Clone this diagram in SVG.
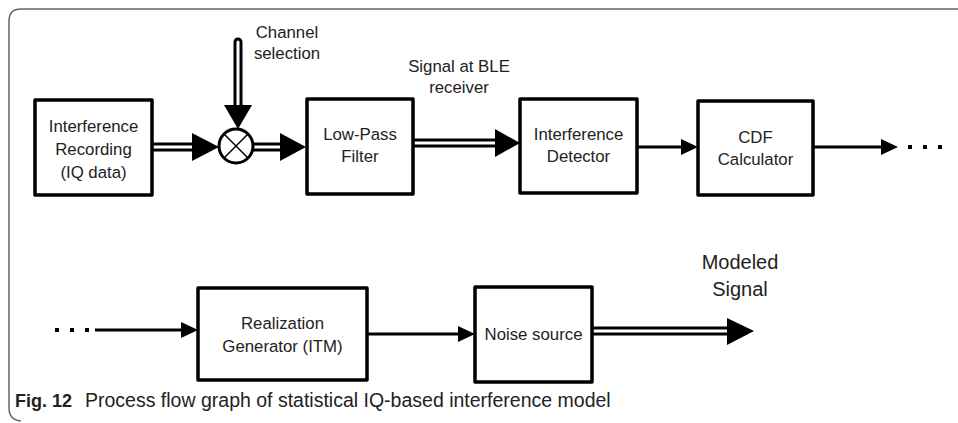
<svg xmlns="http://www.w3.org/2000/svg" width="958" height="423" viewBox="0 0 958 423">
  <style>
    .box { fill: #fff; stroke: #000; stroke-width: 3.5; stroke-linejoin: round; }
    .lbl { font-family: "Liberation Sans", Arial, sans-serif; font-size: 16.8px; fill: #222; text-anchor: middle; }
    .big { font-family: "Liberation Sans", Arial, sans-serif; font-size: 20px; fill: #222; text-anchor: middle; }
    .cap { font-family: "Liberation Sans", Arial, sans-serif; font-size: 19.5px; fill: #222; }
    .wire { stroke: #000; stroke-width: 3; fill: none; }
    .pipe { stroke: #000; stroke-width: 9; fill: none; }
    .core { stroke: #fff; stroke-width: 3; fill: none; }
    .head { fill: #000; }
    .dot { fill: #000; }
  </style>

  <!-- page frame: open bracket with rounded corners -->
  <path d="M958 9 H21 Q9 9 9 21 V408 Q9 420 21 421" fill="none" stroke="#666" stroke-width="1.5"/>

  <g id="connectors">
    <!-- recording -> mixer -->
    <line class="pipe" x1="152" y1="147" x2="194" y2="147"/>
    <line class="core" x1="152" y1="147" x2="196" y2="147"/>
    <polygon class="head" points="192,133 219,147 192,161"/>

    <!-- channel selection -> mixer -->
    <path class="pipe" d="M238 42 V107" stroke-linecap="round"/>
    <path class="core" d="M238 42 V109" stroke-linecap="round"/>
    <polygon class="head" points="224,105 238,129 252,105"/>

    <!-- mixer -> low-pass filter -->
    <line class="pipe" x1="253" y1="147" x2="282" y2="147"/>
    <line class="core" x1="254" y1="147" x2="284" y2="147"/>
    <polygon class="head" points="280,133 306,147 280,161"/>

    <!-- low-pass filter -> detector -->
    <line class="pipe" x1="413" y1="143" x2="497" y2="143"/>
    <line class="core" x1="413" y1="143" x2="499" y2="143"/>
    <polygon class="head" points="495,129 520,143 495,157"/>

    <!-- detector -> CDF calculator -->
    <line class="wire" x1="637" y1="147" x2="684" y2="147"/>
    <polygon class="head" points="681,139 698,147 681,155"/>

    <!-- CDF calculator -> continuation -->
    <line class="wire" x1="813" y1="147" x2="884" y2="147"/>
    <polygon class="head" points="881,139 898,147 881,155"/>
    <rect class="dot" x="908" y="145" width="4" height="4"/>
    <rect class="dot" x="923" y="145" width="4" height="4"/>
    <rect class="dot" x="938" y="145" width="4" height="4"/>

    <!-- continuation -> realization generator -->
    <rect class="dot" x="55" y="328" width="4" height="4"/>
    <rect class="dot" x="70" y="328" width="4" height="4"/>
    <rect class="dot" x="85" y="328" width="4" height="4"/>
    <line class="wire" x1="95" y1="330" x2="184" y2="330"/>
    <polygon class="head" points="181,322 198,330 181,338"/>

    <!-- realization generator -> noise source -->
    <line class="wire" x1="367" y1="334" x2="461" y2="334"/>
    <polygon class="head" points="458,326 475,334 458,342"/>

    <!-- noise source -> modeled signal -->
    <line class="pipe" x1="592" y1="331" x2="729" y2="331" stroke-width="10"/>
    <line class="core" x1="592" y1="331" x2="731" y2="331" stroke-width="4"/>
    <polygon class="head" points="727,318 754,331 727,345"/>
  </g>

  <g id="recording">
    <rect class="box" x="35" y="100" width="117" height="95"/>
    <text class="lbl" x="93.5" y="132">Interference</text>
    <text class="lbl" x="93.5" y="155">Recording</text>
    <text class="lbl" x="93.5" y="178">(IQ data)</text>
  </g>

  <g id="mixer">
    <circle cx="236" cy="146" r="17" fill="#fff" stroke="#000" stroke-width="3"/>
    <path d="M224 134 L248 158 M248 134 L224 158" stroke="#000" stroke-width="1.5"/>
  </g>

  <g id="channel-label">
    <text class="lbl" x="287" y="38">Channel</text>
    <text class="lbl" x="287" y="59">selection</text>
  </g>

  <g id="lowpass">
    <rect class="box" x="307" y="99" width="106" height="95"/>
    <text class="lbl" x="360" y="140">Low-Pass</text>
    <text class="lbl" x="360" y="162">Filter</text>
  </g>

  <g id="ble-label">
    <text class="lbl" x="459" y="72">Signal at BLE</text>
    <text class="lbl" x="459" y="93">receiver</text>
  </g>

  <g id="detector">
    <rect class="box" x="520" y="99" width="117" height="94"/>
    <text class="lbl" x="578.5" y="140">Interference</text>
    <text class="lbl" x="578.5" y="162">Detector</text>
  </g>

  <g id="cdf">
    <rect class="box" x="698" y="101" width="115" height="94"/>
    <text class="lbl" x="755.5" y="143">CDF</text>
    <text class="lbl" x="755.5" y="165">Calculator</text>
  </g>

  <g id="realization">
    <rect class="box" x="198" y="288" width="169" height="92"/>
    <text class="lbl" x="282.5" y="329">Realization</text>
    <text class="lbl" x="282.5" y="352">Generator (ITM)</text>
  </g>

  <g id="noise">
    <rect class="box" x="475" y="287" width="117" height="95"/>
    <text class="lbl" x="533.5" y="340">Noise source</text>
  </g>

  <g id="output-label">
    <text class="big" x="740" y="269">Modeled</text>
    <text class="big" x="740" y="296">Signal</text>
  </g>

  <g id="caption">
    <text class="cap" x="15" y="407"><tspan font-weight="bold" font-size="18px">Fig. 12</tspan><tspan x="85">Process flow graph of statistical IQ-based interference model</tspan></text>
  </g>
</svg>
